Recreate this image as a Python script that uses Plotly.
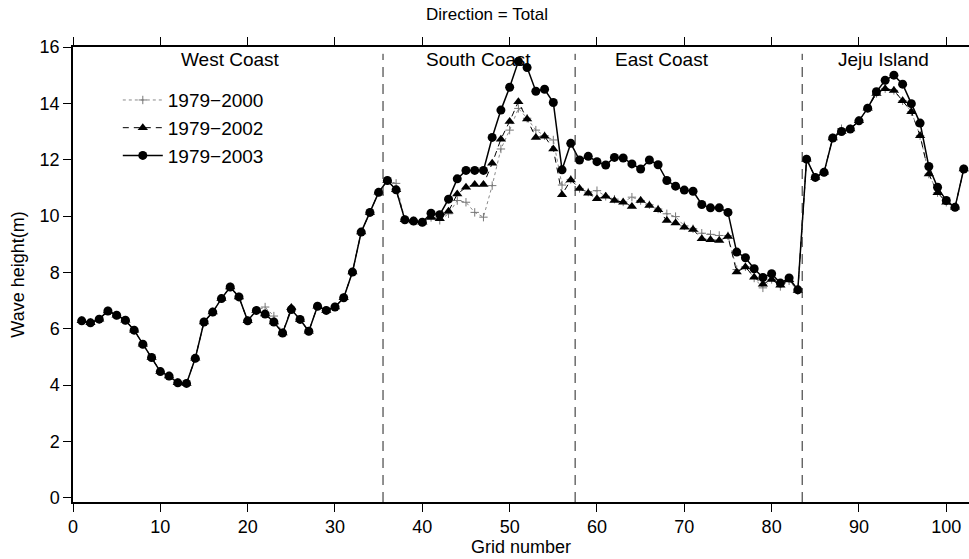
import plotly.graph_objects as go

grid = list(range(1, 103))

s2003 = [6.28, 6.21, 6.34, 6.63, 6.48, 6.30, 5.95, 5.45, 4.98, 4.48,
         4.32, 4.08, 4.06, 4.95, 6.24, 6.59, 7.07, 7.48, 7.13, 6.28,
         6.65, 6.52, 6.24, 5.85, 6.68, 6.33, 5.91, 6.80, 6.65, 6.77,
         7.10, 8.01, 9.43, 10.13, 10.84,
         11.26, 10.93, 9.87, 9.82, 9.78, 10.10, 10.05, 10.60, 11.32, 11.62,
         11.62, 11.62, 12.79, 13.76, 14.57, 15.49, 15.27, 14.43, 14.50, 14.03,
         11.64, 12.58,
         11.99, 12.12, 11.93, 11.81, 12.08, 12.06, 11.85, 11.67, 11.99, 11.82,
         11.26, 11.06, 10.92, 10.88, 10.41, 10.29, 10.29, 10.13, 8.72, 8.52,
         8.13, 7.82, 7.95, 7.62, 7.80, 7.38,
         12.02, 11.37, 11.55, 12.77, 13.00, 13.09, 13.38, 13.83, 14.41, 14.82,
         15.00, 14.68, 13.99, 13.30, 11.76, 11.02, 10.55, 10.31, 11.67]

s2002 = [6.28, 6.21, 6.34, 6.63, 6.48, 6.30, 5.95, 5.45, 4.98, 4.48,
         4.32, 4.08, 4.06, 4.95, 6.24, 6.59, 7.07, 7.48, 7.13, 6.28,
         6.65, 6.52, 6.24, 5.85, 6.75, 6.33, 5.91, 6.80, 6.65, 6.77,
         7.10, 8.01, 9.43, 10.13, 10.84,
         11.26, 10.93, 9.87, 9.82, 9.78, 9.95, 9.90, 10.17, 10.78, 11.02,
         11.12, 11.12, 11.87, 12.73, 13.36, 14.06, 13.44, 12.79, 12.83, 12.38,
         10.76, 11.28,
         10.98, 10.81, 10.61, 10.70, 10.55, 10.49, 10.34, 10.55, 10.37, 10.22,
         9.84, 9.75, 9.60, 9.52, 9.19, 9.16, 9.13, 9.27, 8.01, 8.19,
         7.83, 7.58, 7.75, 7.54, 7.74, 7.36,
         12.02, 11.37, 11.55, 12.77, 13.00, 13.09, 13.38, 13.83, 14.35, 14.52,
         14.46, 14.09, 13.70, 12.85, 11.49, 10.83, 10.49, 10.31, 11.67]

s2000 = [6.28, 6.21, 6.34, 6.63, 6.48, 6.30, 5.95, 5.45, 4.98, 4.48,
         4.32, 4.08, 4.06, 4.95, 6.24, 6.59, 7.07, 7.48, 7.13, 6.28,
         6.65, 6.77, 6.45, 5.85, 6.72, 6.33, 5.91, 6.80, 6.65, 6.77,
         7.10, 8.01, 9.43, 10.13, 10.84,
         11.26, 11.16, 9.87, 9.82, 9.78, 9.95, 9.85, 10.08, 10.55, 10.49,
         10.13, 9.96, 11.08, 12.38, 13.05, 13.82, 13.47, 13.05, 12.85, 12.70,
         11.10, 11.30,
         10.98, 10.85, 10.90, 10.70, 10.60, 10.50, 10.67, 10.55, 10.40, 10.25,
         10.08, 9.98, 9.65, 9.55, 9.39, 9.35, 9.31, 9.30, 8.10, 8.20,
         7.80, 7.45, 7.75, 7.50, 7.70, 7.35,
         12.02, 11.37, 11.55, 12.77, 13.10, 13.09, 13.38, 13.83, 14.35, 14.52,
         14.46, 14.09, 13.70, 12.85, 11.49, 10.83, 10.49, 10.31, 11.67]

boundaries = [35.5, 57.5, 83.5]
regions = ["West Coast", "South Coast", "East Coast", "Jeju Island"]
region_x = [18, 46.4, 67.5, 92.8]
x_ticks = list(range(0, 101, 10))
y_ticks = list(range(0, 17, 2))

FONT = "Liberation Sans, Arial, sans-serif"

fig = go.Figure()
fig.add_trace(go.Scatter(
    x=grid, y=s2000, name="1979\u22122000", mode="lines+markers",
    line=dict(color="#8a8a8a", width=1, dash="dot"),
    marker=dict(symbol="cross-thin", size=6, line=dict(color="#777777", width=1)),
    cliponaxis=False))
fig.add_trace(go.Scatter(
    x=grid, y=s2002, name="1979\u22122002", mode="lines+markers",
    line=dict(color="black", width=1, dash="6px,5px"),
    marker=dict(symbol="triangle-up", size=9, color="black"),
    cliponaxis=False))
fig.add_trace(go.Scatter(
    x=grid, y=s2003, name="1979\u22122003", mode="lines+markers",
    line=dict(color="black", width=1.5),
    marker=dict(symbol="circle", size=9, color="black"),
    cliponaxis=False))

for b in boundaries:
    fig.add_shape(type="line", xref="x", yref="paper", x0=b, x1=b, y0=0, y1=0.985,
                  line=dict(color="#222222", width=1, dash="10px,7px"))

for name, rx in zip(regions, region_x):
    fig.add_annotation(x=rx, y=15.55, xref="x", yref="y", text=name, showarrow=False,
                       yanchor="middle",
                       font=dict(size=19, color="black", family=FONT))

fig.add_annotation(x=0.462, y=1.072, xref="paper", yref="paper", text="Direction = Total",
                   showarrow=False, yanchor="middle",
                   font=dict(size=17, color="black", family=FONT))

axis_common = dict(showline=True, linecolor="black", linewidth=1.5, ticks="outside",
                   ticklen=8, tickwidth=1.2, tickcolor="black", showgrid=False,
                   zeroline=False, tickfont=dict(size=18, color="black", family=FONT))

fig.update_layout(
    width=969, height=559,
    margin=dict(l=73, r=0, t=47, b=57),
    paper_bgcolor="white", plot_bgcolor="white",
    font=dict(family=FONT, color="black"),
    xaxis=dict(range=[0, 102.6], tickvals=x_ticks, mirror="ticks",
               title=dict(text="Grid number", font=dict(size=18), standoff=4),
               **axis_common),
    yaxis=dict(range=[-0.15, 16], tickvals=y_ticks, mirror=False,
               title=dict(text="Wave height(m)", font=dict(size=18), standoff=10),
               **axis_common),
    legend=dict(x=0.05, y=0.925, xanchor="left", yanchor="top",
                bgcolor="rgba(0,0,0,0)", font=dict(size=19, family=FONT),
                itemwidth=40),
    showlegend=True,
)

# remove the default page margin so the figure sits at the window's top-left corner
fig.write_html("out.html", config={"displayModeBar": False},
               post_script="document.body.style.margin='0';")
